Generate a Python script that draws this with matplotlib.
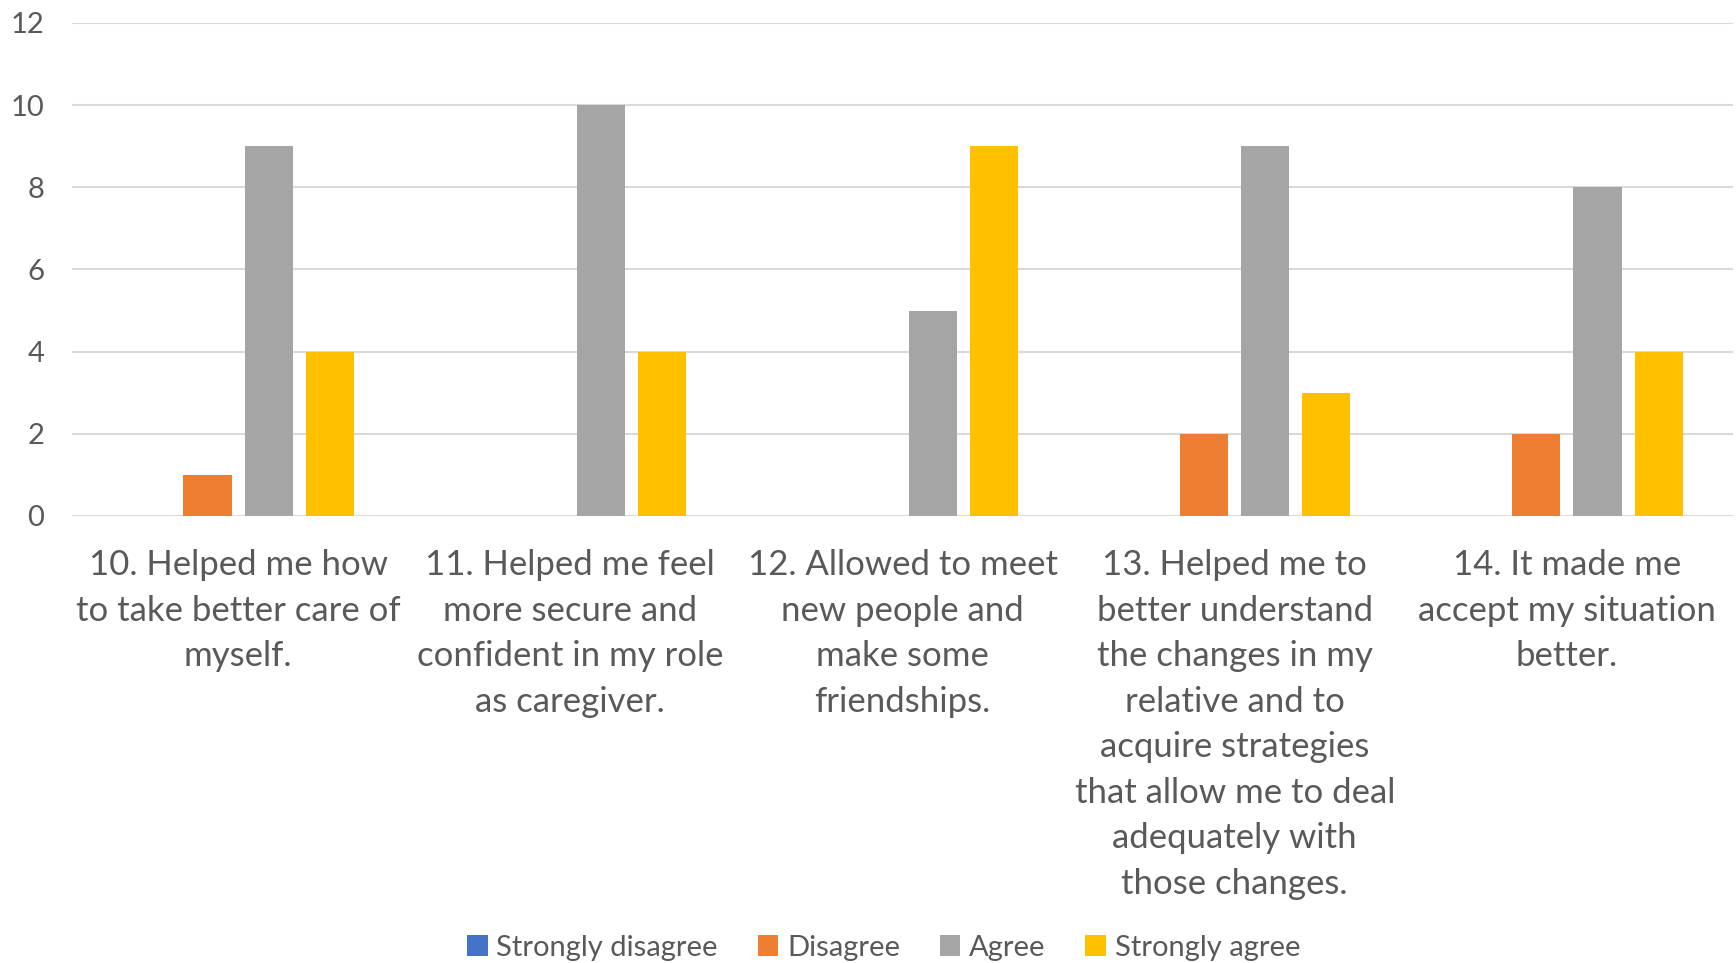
import matplotlib.pyplot as plt
import numpy as np

plt.rcParams['font.family'] = ['Lato', 'DejaVu Sans']

categories = [
    "10. Helped me how\nto take better care of\nmyself.",
    "11. Helped me feel\nmore secure and\nconfident in my role\nas caregiver.",
    "12. Allowed to meet\nnew people and\nmake some\nfriendships.",
    "13. Helped me to\nbetter understand\nthe changes in my\nrelative and to\nacquire strategies\nthat allow me to deal\nadequately with\nthose changes.",
    "14. It made me\naccept my situation\nbetter.",
]
series_names = ["Strongly disagree", "Disagree", "Agree", "Strongly agree"]
strongly_disagree = [0, 0, 0, 0, 0]
disagree = [1, 0, 0, 2, 2]
agree = [9, 10, 5, 9, 8]
strongly_agree = [4, 4, 9, 3, 4]
colors = ["#4472C4", "#ED7D31", "#A5A5A5", "#FFC000"]

fig = plt.figure(figsize=(17.36, 9.63), dpi=100)
ax = fig.add_axes([72 / 1736, 1 - 516 / 963, (1733 - 72) / 1736, (516 - 23) / 963])

x = np.arange(len(categories))
step = 0.184
width = 0.145
all_series = [strongly_disagree, disagree, agree, strongly_agree]
for i, (name, vals) in enumerate(zip(series_names, all_series)):
    ax.bar(x + (i - 1.5) * step, vals, width, color=colors[i], label=name, zorder=3)

ax.set_xlim(-0.5, len(categories) - 0.5)
ax.set_ylim(0, 12)
ax.set_yticks(range(0, 13, 2))
ax.yaxis.grid(True, color="#D9D9D9", linewidth=1.5, zorder=0)
for s in ["top", "right", "left", "bottom"]:
    ax.spines[s].set_visible(False)
ax.tick_params(axis="y", length=0, labelsize=21, labelcolor="#595959", pad=20)
ax.tick_params(axis="x", length=0, labelsize=25, labelcolor="#595959", pad=24)
ax.set_xticks(x)
ax.set_xticklabels(categories, linespacing=1.52)

fig.legend(*ax.get_legend_handles_labels(), loc="center", bbox_to_anchor=(0.509, 0.016),
           ncol=4, frameon=False, fontsize=21, labelcolor="#595959",
           handlelength=0.7, handleheight=0.7, handletextpad=0.3, columnspacing=1.37)

fig.savefig("out.png", dpi=100)
